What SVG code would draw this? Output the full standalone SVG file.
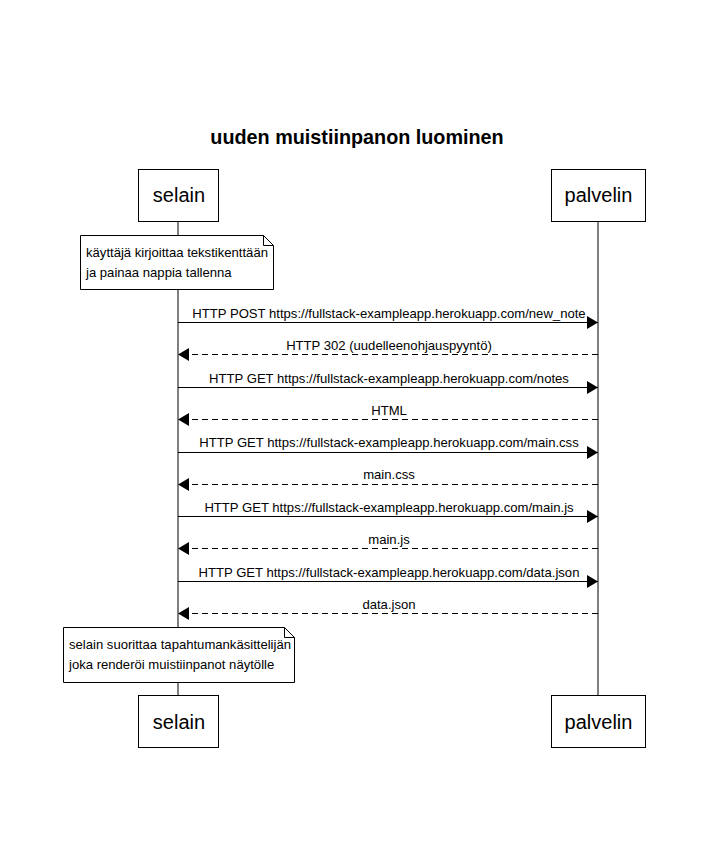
<svg xmlns="http://www.w3.org/2000/svg" width="713" height="851" viewBox="0 0 713 851">
<style>
text{font-family:"Liberation Sans",Arial,sans-serif;fill:#000}
.actor rect{fill:#fff;stroke:#000;stroke-width:1}
.actor text{font-size:20px;text-anchor:middle}
.life{stroke:#000;stroke-width:1}
.msg{stroke:#000;stroke-width:1;fill:none}
.dash{stroke-dasharray:6,4}
.lbl{font-size:13.1px;text-anchor:middle}
.note path{fill:#fff;stroke:#000;stroke-width:1}
.note text{font-size:13.1px}
</style>
<defs>
<marker id="ah" markerWidth="12" markerHeight="14" refX="11" refY="7" orient="auto" markerUnits="userSpaceOnUse">
<path d="M0,0.5 L11,7 L0,13.5 Z" fill="#000"/>
</marker>
</defs>
<rect width="713" height="851" fill="#fff"/>
<text x="357" y="144" font-size="19.8" font-weight="bold" text-anchor="middle">uuden muistiinpanon luominen</text>
<g id="lifelines">
<line class="life" x1="178" y1="221" x2="178" y2="695"/>
<line class="life" x1="598" y1="221" x2="598" y2="695"/>
</g>
<g id="selain-top" class="actor"><rect x="138.5" y="169.5" width="80" height="52"/><text x="179" y="202">selain</text></g>
<g id="palvelin-top" class="actor"><rect x="551.5" y="169.5" width="94" height="52"/><text x="598.5" y="202">palvelin</text></g>
<g id="selain-bottom" class="actor"><rect x="138.5" y="695.5" width="80" height="52"/><text x="179" y="729">selain</text></g>
<g id="palvelin-bottom" class="actor"><rect x="551.5" y="695.5" width="94" height="52"/><text x="598.5" y="729">palvelin</text></g>
<g id="note1" class="note"><path d="M80.5,235.5 H263.5 L273.5,245.5 V289.5 H80.5 Z M263.5,235.5 V245.5 H273.5"/><text x="86" y="257">käyttäjä kirjoittaa tekstikenttään</text><text x="86" y="277">ja painaa nappia tallenna</text></g>
<g id="note2" class="note"><path d="M63.5,627.5 H284.5 L294.5,637.5 V682.5 H63.5 Z M284.5,627.5 V637.5 H294.5"/><text x="69" y="649">selain suorittaa tapahtumankäsittelijän</text><text x="69" y="669">joka renderöi muistiinpanot näytölle</text></g>
<g id="connectors">
<line class="msg" x1="178" y1="322.5" x2="598" y2="322.5" marker-end="url(#ah)"/>
<text class="lbl" x="389" y="318">HTTP POST https://fullstack-exampleapp.herokuapp.com/new_note</text>
<line class="msg dash" x1="598" y1="354.5" x2="178" y2="354.5" marker-end="url(#ah)"/>
<text class="lbl" x="389" y="350">HTTP 302 (uudelleenohjauspyyntö)</text>
<line class="msg" x1="178" y1="387.5" x2="598" y2="387.5" marker-end="url(#ah)"/>
<text class="lbl" x="389" y="383">HTTP GET https://fullstack-exampleapp.herokuapp.com/notes</text>
<line class="msg dash" x1="598" y1="419.5" x2="178" y2="419.5" marker-end="url(#ah)"/>
<text class="lbl" x="389" y="415">HTML</text>
<line class="msg" x1="178" y1="452.5" x2="598" y2="452.5" marker-end="url(#ah)"/>
<text class="lbl" x="389" y="447">HTTP GET https://fullstack-exampleapp.herokuapp.com/main.css</text>
<line class="msg dash" x1="598" y1="484.5" x2="178" y2="484.5" marker-end="url(#ah)"/>
<text class="lbl" x="389" y="479">main.css</text>
<line class="msg" x1="178" y1="516.5" x2="598" y2="516.5" marker-end="url(#ah)"/>
<text class="lbl" x="389" y="512">HTTP GET https://fullstack-exampleapp.herokuapp.com/main.js</text>
<line class="msg dash" x1="598" y1="548.5" x2="178" y2="548.5" marker-end="url(#ah)"/>
<text class="lbl" x="389" y="544">main.js</text>
<line class="msg" x1="178" y1="581.5" x2="598" y2="581.5" marker-end="url(#ah)"/>
<text class="lbl" x="389" y="577">HTTP GET https://fullstack-exampleapp.herokuapp.com/data.json</text>
<line class="msg dash" x1="598" y1="613.5" x2="178" y2="613.5" marker-end="url(#ah)"/>
<text class="lbl" x="389" y="609">data.json</text>
</g>
</svg>
